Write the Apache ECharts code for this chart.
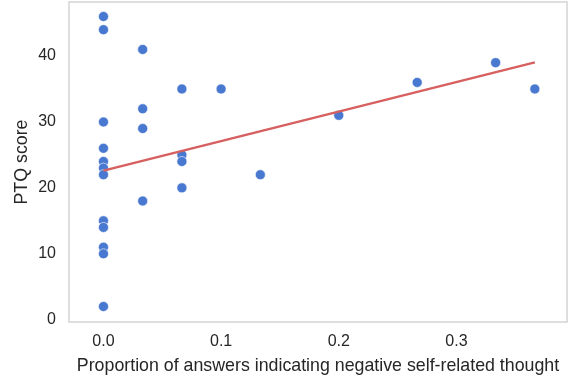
<!DOCTYPE html>
<html>
<head>
<meta charset="utf-8">
<script src="https://cdn.jsdelivr.net/npm/echarts@6/dist/echarts.min.js"></script>
<style>
  html, body { margin: 0; padding: 0; background: #ffffff; }
  #chart { width: 572px; height: 380px; }
</style>
</head>
<body>
<div id="chart"></div>
<script>
// proportion of negative self-related answers (x) and PTQ score (y)
var propX = [
  0, 0, 0, 0, 0, 0, 0, 0, 0, 0, 0, 0,
  1/30, 1/30, 1/30, 1/30,
  2/30, 2/30, 2/30, 2/30,
  3/30, 4/30, 6/30, 8/30, 10/30, 11/30
];
var ptqY = [
  46, 44, 30, 26, 24, 23, 22, 15, 14, 11, 10, 2,
  41, 32, 29, 18,
  35, 25, 24, 20,
  35, 22, 31, 36, 39, 35
];
// fitted line end points
var fitX = [0, 11/30];
var fitY = [22.6, 39.05];

var xTicks = [0, 0.1, 0.2, 0.3];
var yTicks = [0, 10, 20, 30, 40];

var points = propX.map(function (x, i) { return [x, ptqY[i]]; });
var fitLine = fitX.map(function (x, i) { return [x, fitY[i]]; });

var font = 'Liberation Sans, Arial, sans-serif';
var myChart = echarts.init(document.getElementById('chart'));
var option = {
  backgroundColor: '#ffffff',
  animation: false,
  grid: {
    left: 69, right: 5, top: 2, bottom: 57,
    show: true,
    borderColor: '#d4d4d4',
    borderWidth: 1.5
  },
  xAxis: {
    type: 'value',
    min: -0.0293,
    max: 0.394,
    name: 'Proportion of answers indicating negative self-related thought',
    nameLocation: 'middle',
    nameGap: 35,
    nameMoveOverlap: false,
    nameTextStyle: { fontFamily: font, fontSize: 17.8, color: '#262626' },
    axisLine: { show: false },
    axisTick: { show: false },
    splitLine: { show: false },
    axisLabel: {
      margin: 12,
      fontFamily: font, fontSize: 16, color: '#262626',
      customValues: xTicks,
      formatter: function (v) { return v.toFixed(1); }
    }
  },
  yAxis: {
    type: 'value',
    min: -0.35,
    max: 48.2,
    name: 'PTQ score',
    nameLocation: 'middle',
    nameGap: 38,
    nameMoveOverlap: false,
    nameTextStyle: { fontFamily: font, fontSize: 17.8, color: '#262626' },
    axisLine: { show: false },
    axisTick: { show: false },
    splitLine: { show: false },
    axisLabel: {
      margin: 13,
      fontFamily: font, fontSize: 16, color: '#262626',
      customValues: yTicks
    }
  },
  series: [
    {
      type: 'scatter',
      data: points,
      symbolSize: 10,
      itemStyle: { color: '#4878d0', opacity: 1, borderColor: '#ffffff', borderWidth: 0.6 },
      z: 2
    },
    {
      type: 'line',
      data: fitLine,
      symbol: 'none',
      lineStyle: { color: '#d65f5f', width: 2.3 },
      z: 3
    }
  ]
};
myChart.setOption(option);
</script>
</body>
</html>
